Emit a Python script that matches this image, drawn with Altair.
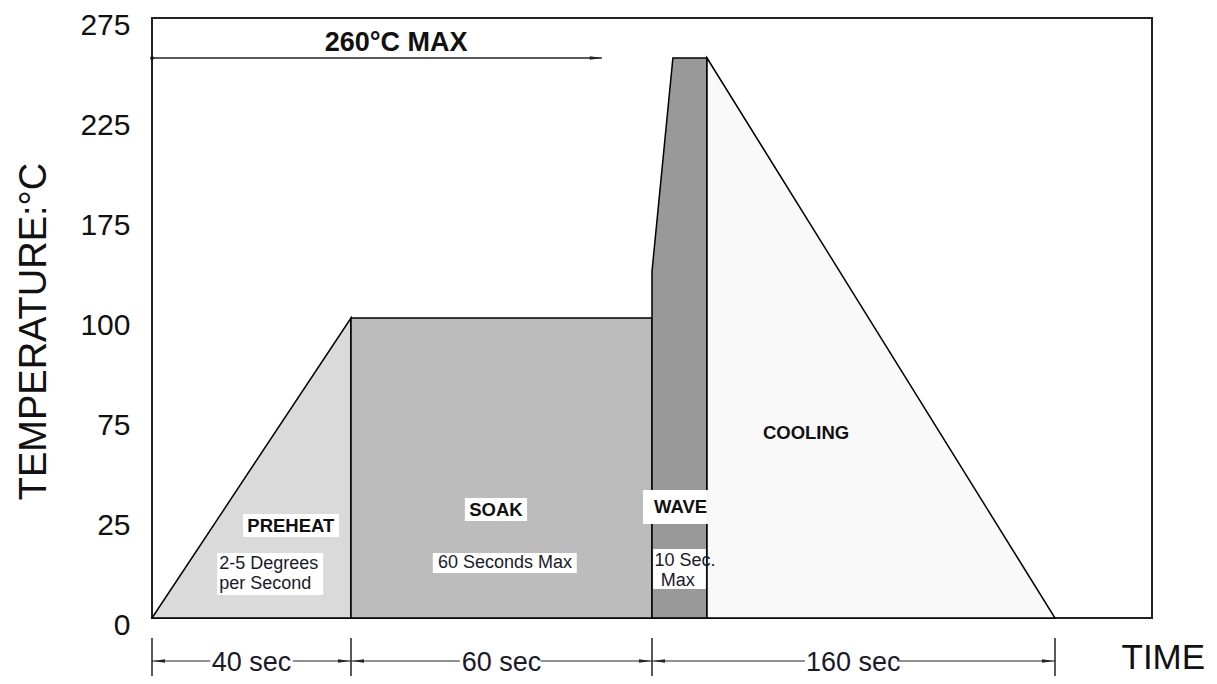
import altair as alt
import pandas as pd

# ---------------- data ----------------
# temperature profile (time in seconds, temperature in °C)
preheat_t = [0, 40]
preheat_temp = [0, 100]
soak_t = [40, 100]
soak_temp = [100, 100]
wave_t = [100, 103.8, 110]
wave_temp = [135, 255, 255]
cool_t = [110, 260]
cool_temp = [255, 0]

regions = ["PREHEAT", "SOAK", "WAVE", "COOLING"]
region_fill = ["#dadada", "#bcbcbc", "#999999", "#f9f9f9"]

# axis tick values (the drawing is not to scale: piecewise axes)
y_ticks = [0, 25, 75, 100, 175, 225, 275]
y_positions = [600, 500, 400, 300, 200, 100, 0]
x_breaks = [0, 40, 100, 110, 260, 300]
x_positions = [0, 199, 500, 555, 903, 1000]

# duration markers below the chart
dim_ticks = [0, 40, 100, 260]
dim_labels = ["40 sec", "60 sec", "160 sec"]
dim_label_t = [20, 70, 173]
dim_box_t1 = [11.7, 61.7, 152.2]
dim_box_t2 = [28.3, 77.8, 191.9]

# max temperature marker
max_temp = 255
max_arrow_end = 90
max_label = "260°C MAX"
max_label_t = 49
max_label_temp = 262.5

# phase labels
bold_text = ["PREHEAT", "SOAK", "WAVE", "COOLING"]
bold_t = [27.9, 68.9, 105.2, 152.7]
bold_temp = [23.1, 29.25, 30.5, 67.5]

small_text = ["2-5 Degrees", "per Second", "60 Seconds Max", "10 Sec.", "Max"]
small_t = [13.5, 13.5, 70.7, 106.0, 104.7]
small_temp = [13.5, 8.5, 13.75, 14.25, 9.25]
small_align = ["left", "left", "center", "center", "center"]

# white label boxes
box_t1 = [18.3, 13.1, 62.7, 56.3, 98.2, 100.2]
box_t2 = [37.6, 34.4, 75.1, 85.0, 110.4, 109.8]
box_temp1 = [20.25, 5.75, 24.25, 11.25, 23.5, 7.25]
box_temp2 = [27.0, 16.25, 35.0, 16.25, 39.0, 17.25]

# ---------------- tables ----------------
rows = []
for name, ts, vs in zip(regions, [preheat_t, soak_t, wave_t, cool_t],
                        [preheat_temp, soak_temp, wave_temp, cool_temp]):
    for t, v in zip(ts, vs):
        rows.append({"region": name, "t": t, "temp": v})
profile = pd.DataFrame(rows)

boxes = pd.DataFrame({"t1": box_t1, "t2": box_t2, "y1": box_temp1, "y2": box_temp2})
bold_df = pd.DataFrame({"label": bold_text, "t": bold_t, "temp": bold_temp})
small_df = pd.DataFrame({"label": small_text, "t": small_t, "temp": small_temp, "align": small_align})
dims = pd.DataFrame({"t1": dim_ticks[:-1], "t2": dim_ticks[1:], "label": dim_labels,
                     "tl": dim_label_t, "b1": dim_box_t1, "b2": dim_box_t2})
ticks_df = pd.DataFrame({"t": dim_ticks})
maxline = pd.DataFrame({"t1": [0], "t2": [max_arrow_end], "temp": [max_temp],
                        "label": [max_label], "tl": [max_label_t], "yl": [max_label_temp]})

SANS = "Liberation Sans, Arial, sans-serif"

xscale = alt.Scale(domain=x_breaks, range=x_positions, nice=False, zero=False)
yscale = alt.Scale(domain=y_ticks, range=y_positions, nice=False, zero=False)

xaxis = alt.Axis(title="TIME", labels=False, ticks=False, domain=False, grid=False,
                 titleFont=SANS, titleFontSize=35, titleFontWeight="normal",
                 titleColor="#111", titleX=969, titleY=50, titleAlign="left",
                 titleBaseline="alphabetic")
yaxis = alt.Axis(values=y_ticks, title="TEMPERATURE:°C", ticks=False, domain=False,
                 grid=False, labelFont=SANS, labelFontSize=30, labelColor="#111",
                 labelPadding=22, labelOffset=7,
                 titleFont=SANS, titleFontSize=38, titleFontWeight="normal",
                 titleColor="#111", titleAngle=270, titleX=-107, titleY=313,
                 titleAlign="center", titleBaseline="alphabetic")

areas = alt.Chart(profile).mark_area(stroke="black", strokeWidth=1.5,
                                     interpolate="linear").encode(
    x=alt.X("t:Q", scale=xscale, axis=xaxis),
    y=alt.Y("temp:Q", scale=yscale, axis=yaxis, stack=None),
    y2=alt.datum(0),
    color=alt.Color("region:N", scale=alt.Scale(domain=regions, range=region_fill),
                    legend=None),
)

# max line
max_rule = alt.Chart(maxline).mark_rule(color="#222", strokeWidth=1.5).encode(
    x="t1:Q", x2="t2:Q", y="temp:Q")
max_dot = alt.Chart(maxline).mark_point(filled=True, color="#111", size=14, opacity=1).encode(
    x="t1:Q", y="temp:Q")
RIGHT = "M-1,-0.3L1,0L-1,0.3Z"
LEFT = "M1,-0.3L-1,0L1,0.3Z"
max_head = alt.Chart(maxline).mark_point(shape=RIGHT, filled=True, color="#222", size=144,
                                         opacity=1, xOffset=-6).encode(
    x="t2:Q", y="temp:Q")
max_text = alt.Chart(maxline).mark_text(font=SANS, fontSize=27, fontWeight="bold",
                                        color="#111", baseline="middle").encode(
    x="tl:Q", y="yl:Q", text="label:N")

# white label boxes
box_layer = alt.Chart(boxes).mark_rect(fill="white").encode(
    x="t1:Q", x2="t2:Q", y="y1:Q", y2="y2:Q")

bold_layer = alt.Chart(bold_df).mark_text(font=SANS, fontSize=18.5, fontWeight="bold",
                                          color="#111", baseline="middle").encode(
    x="t:Q", y="temp:Q", text="label:N")

small_left = alt.Chart(small_df).transform_filter(alt.datum.align == "left").mark_text(
    font=SANS, fontSize=18, color="#1a1a2a", align="left", baseline="middle").encode(
    x="t:Q", y="temp:Q", text="label:N")
small_center = alt.Chart(small_df).transform_filter(alt.datum.align == "center").mark_text(
    font=SANS, fontSize=18, color="#1a1a2a", align="center", baseline="middle").encode(
    x="t:Q", y="temp:Q", text="label:N")

# duration markers
dim_ticks_layer = alt.Chart(ticks_df).mark_rule(color="#222", strokeWidth=1.5).encode(
    x="t:Q", y=alt.value(620), y2=alt.value(658))
dim_lines = alt.Chart(dims).mark_rule(color="#222", strokeWidth=1.2).encode(
    x="t1:Q", x2="t2:Q", y=alt.value(643))
dim_head_l = alt.Chart(dims).mark_point(shape=LEFT, filled=True, color="#222", size=144,
                                        opacity=1, xOffset=7).encode(
    x="t1:Q", y=alt.value(643))
dim_head_r = alt.Chart(dims).mark_point(shape=RIGHT, filled=True, color="#222", size=144,
                                        opacity=1, xOffset=-7).encode(
    x="t2:Q", y=alt.value(643))
dim_boxes = alt.Chart(dims).mark_rect(fill="white").encode(
    x="b1:Q", x2="b2:Q", y=alt.value(633), y2=alt.value(656))
dim_text = alt.Chart(dims).mark_text(font=SANS, fontSize=27, color="#1a1a2a",
                                     baseline="middle").encode(
    x="tl:Q", y=alt.value(645), text="label:N")

chart = alt.layer(
    areas, max_rule, max_dot, max_head, max_text,
    box_layer, bold_layer, small_left, small_center,
    dim_ticks_layer, dim_lines, dim_head_l, dim_head_r, dim_boxes, dim_text,
).properties(
    width=1000, height=600,
    background="white",
    autosize=alt.AutoSizeParams(type="none"),
    padding={"left": 144, "top": 10, "right": 57, "bottom": 58},
).configure_view(stroke="#222", strokeWidth=2)

chart.save("out.html", embed_options={"renderer": "svg", "actions": False})
